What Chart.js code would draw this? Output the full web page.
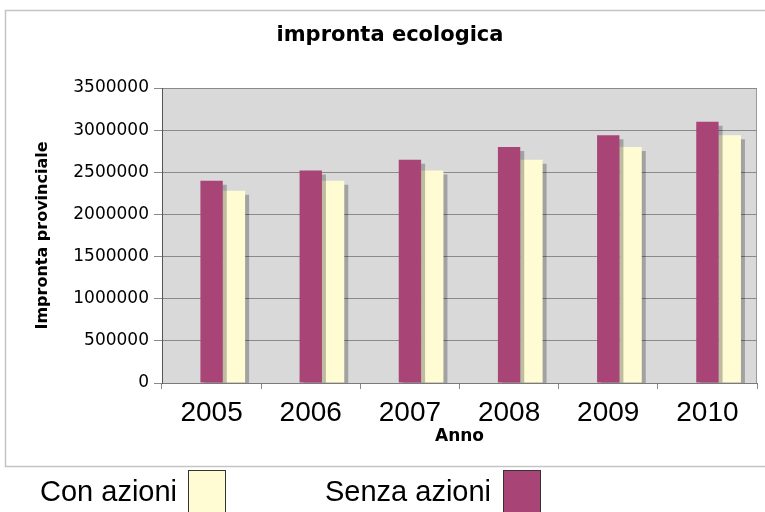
<!DOCTYPE html>
<html>
<head>
<meta charset="utf-8">
<script src="https://cdn.jsdelivr.net/npm/chart.js@4"></script>
<style>
  html, body { margin: 0; padding: 0; background: #fff; }
  #wrap { width: 765px; height: 512px; position: relative; }
</style>
</head>
<body>
<div id="wrap"><canvas id="chart" width="765" height="512"></canvas></div>
<script>
// Data
const anni = ['2005', '2006', '2007', '2008', '2009', '2010'];
const senzaAzioni = [2400000, 2520000, 2650000, 2800000, 2940000, 3100000];
const conAzioni = [2280000, 2400000, 2520000, 2650000, 2800000, 2940000];
const yMin = 0, yMax = 3500000, yStep = 500000;

const COL_SENZA = '#a84576';
const COL_CON = '#fffcd4';

// frame, plot background, title and legend
const decor = {
  id: 'decor',
  beforeDraw(chart) {
    const { ctx, chartArea: a } = chart;
    ctx.save();
    ctx.fillStyle = '#fff';
    ctx.fillRect(0, 0, chart.width, chart.height);
    ctx.strokeStyle = '#c4c4c4';
    ctx.lineWidth = 1.5;
    ctx.strokeRect(5.5, 10.5, 780, 456);
    ctx.fillStyle = '#d9d9d9';
    ctx.fillRect(a.left, a.top, a.right - a.left, a.bottom - a.top);
    ctx.strokeStyle = '#9a9a9a';
    ctx.lineWidth = 1;
    ctx.strokeRect(a.left + 0.5, a.top + 0.5, a.right - a.left - 1, a.bottom - a.top);
    ctx.fillStyle = '#000';
    ctx.font = 'bold 21px "DejaVu Sans"';
    ctx.textAlign = 'center';
    ctx.textBaseline = 'middle';
    ctx.fillText('impronta ecologica', 390, 36);
    ctx.restore();
  },
  afterDraw(chart) {
    const { ctx } = chart;
    ctx.save();
    ctx.font = '29px "Liberation Sans"';
    ctx.fillStyle = '#000';
    ctx.textBaseline = 'alphabetic';
    ctx.fillText('Con azioni', 40, 501);
    ctx.fillText('Senza azioni', 325, 501);
    ctx.strokeStyle = '#333';
    ctx.lineWidth = 1;
    ctx.fillStyle = COL_CON;
    ctx.fillRect(188, 470, 38, 44);
    ctx.strokeRect(188.5, 470.5, 37, 44);
    ctx.fillStyle = COL_SENZA;
    ctx.fillRect(503, 470, 38, 44);
    ctx.strokeRect(503.5, 470.5, 37, 44);
    ctx.restore();
  }
};

// drop shadow behind bars
const shadow = {
  id: 'shadow',
  beforeDatasetDraw(chart) {
    const ctx = chart.ctx;
    ctx.save();
    ctx.shadowColor = 'rgba(0,0,0,0.25)';
    ctx.shadowOffsetX = 4;
    ctx.shadowOffsetY = 4;
    ctx.shadowBlur = 0;
  },
  afterDatasetDraw(chart) {
    chart.ctx.restore();
  }
};

new Chart(document.getElementById('chart'), {
  type: 'bar',
  data: {
    labels: anni,
    datasets: [
      // empty spacer so the pair sits right of the category centre
      { label: '', data: anni.map(() => null), backgroundColor: 'rgba(0,0,0,0)' },
      { label: 'Senza azioni', data: senzaAzioni, backgroundColor: COL_SENZA, borderWidth: 0 },
      { label: 'Con azioni', data: conAzioni, backgroundColor: COL_CON, borderWidth: 0 }
    ]
  },
  options: {
    responsive: false,
    animation: false,
    categoryPercentage: 0.676,
    barPercentage: 1,
    layout: { padding: { left: 33, top: 88, right: 8, bottom: 59 } },
    plugins: {
      legend: { display: false },
      title: { display: false },
      tooltip: { enabled: false }
    },
    scales: {
      x: {
        afterFit: s => { s.height = 70; },
        grid: { offset: true, drawOnChartArea: false, tickLength: 6, color: '#888' },
        border: { color: '#7a7a7a' },
        ticks: { color: '#000', padding: 7, font: { family: 'Liberation Sans', size: 28 }, maxRotation: 0 },
        title: { display: true, text: 'Anno', color: '#000', padding: { top: 0, bottom: 6 },
                 font: { family: 'DejaVu Sans', size: 17, weight: 'bold' } }
      },
      y: {
        min: yMin, max: yMax,
        afterFit: s => { s.width = 129; },
        grid: { color: '#8a8a8a', tickLength: 8 },
        border: { color: '#555' },
        ticks: { stepSize: yStep, color: '#000', padding: 5, font: { family: 'DejaVu Sans', size: 17 },
                 callback: v => String(v) },
        title: { display: true, text: 'Impronta provinciale', color: '#000', padding: 0,
                 font: { family: 'DejaVu Sans', size: 16, weight: 'bold' } }
      }
    }
  },
  plugins: [decor, shadow]
});
</script>
</body>
</html>
